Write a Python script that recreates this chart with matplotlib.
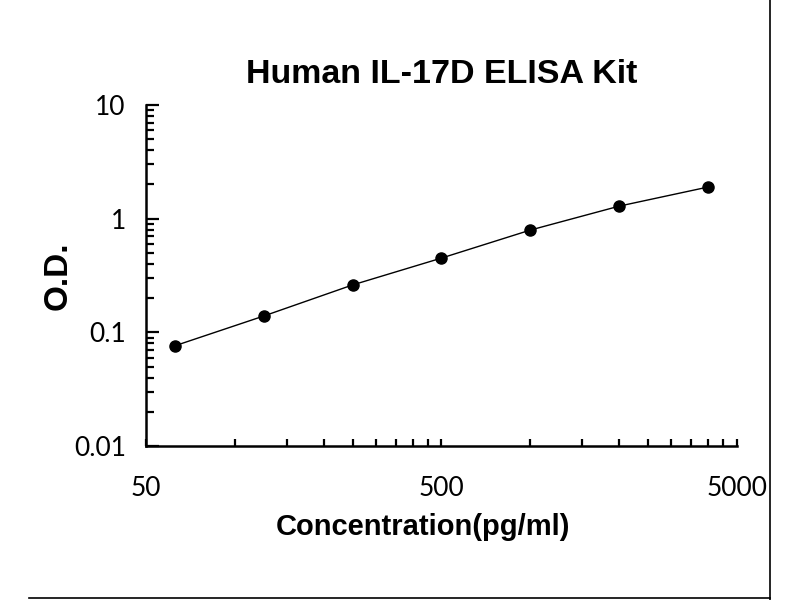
import numpy as np
import matplotlib.pyplot as plt
from matplotlib.ticker import FixedLocator, NullFormatter, LogLocator
from matplotlib.lines import Line2D

# standard curve data
conc = [62.5, 125, 250, 500, 1000, 2000, 4000]
od = [0.076, 0.139, 0.261, 0.45, 0.794, 1.29, 1.90]

x_major = [50, 500, 5000]
x_minor = [100, 150, 200, 250, 300, 350, 400, 450,
           1000, 1500, 2000, 2500, 3000, 3500, 4000, 4500]
y_major = [0.01, 0.1, 1, 10]
y_labels = ['0.01', '0.1', '1', '10']

fig = plt.figure(figsize=(8, 6), dpi=100)
ax = fig.add_axes([0.1825, 0.2567, 0.7387, 0.5683])

ax.plot(conc, od, '-', color='black', linewidth=1.0)
ax.plot(conc, od, 'o', color='black', markersize=8)

ax.set_xscale('log')
ax.set_yscale('log')
ax.set_xlim(50, 5000)
ax.set_ylim(0.01, 10)

ax.xaxis.set_major_locator(FixedLocator(x_major))
ax.xaxis.set_minor_locator(FixedLocator(x_minor))
ax.set_xticklabels([str(v) for v in x_major])
ax.xaxis.set_minor_formatter(NullFormatter())

ax.yaxis.set_major_locator(FixedLocator(y_major))
ax.yaxis.set_minor_locator(LogLocator(base=10, subs=np.arange(2, 10)))
ax.set_yticklabels(y_labels)
ax.yaxis.set_minor_formatter(NullFormatter())

for s in ['top', 'right']:
    ax.spines[s].set_visible(False)
for s in ['left', 'bottom']:
    ax.spines[s].set_linewidth(1.8)

tickfont = 'Lato'
ax.tick_params(axis='x', which='both', direction='in', length=5, width=1.6,
               pad=21.5, labelsize=19)
ax.tick_params(axis='y', which='major', direction='in', length=9, width=1.6,
               pad=14.5, labelsize=19)
ax.tick_params(axis='y', which='minor', direction='in', length=5.5, width=1.6)
for lab in ax.get_xticklabels() + ax.get_yticklabels():
    lab.set_fontfamily(tickfont)

ax.set_title('Human IL-17D ELISA Kit', fontsize=24.5, fontweight='bold',
             family='Liberation Sans', pad=16)
ax.set_xlabel('Concentration(pg/ml)', fontsize=21, fontweight='bold',
              family='Liberation Sans', labelpad=9)
ax.xaxis.label.set_x(0.469)
ax.set_ylabel('O.D.', fontsize=24, fontweight='bold',
              family='Liberation Sans', labelpad=0)

# image frame lines (right and bottom)
fig.add_artist(Line2D([0.9625, 0.9625], [0.0, 1.0], color='black', linewidth=1.2))
fig.add_artist(Line2D([0.036, 0.9625], [0.003, 0.003], color='black', linewidth=1.2))

fig.savefig('out.png', dpi=100)
